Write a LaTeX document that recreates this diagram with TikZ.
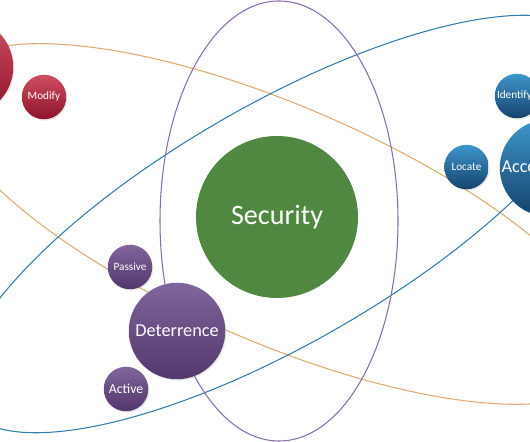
\documentclass[tikz,border=0pt]{standalone}
\usepackage{fontspec}
\setmainfont{Carlito}
\usetikzlibrary{shadows}

\definecolor{orbitorange}{RGB}{222,172,112}
\definecolor{orbitpurple}{RGB}{135,110,170}
\definecolor{orbitblue}{RGB}{50,125,170}
\definecolor{securitygreen}{RGB}{80,135,65}
\definecolor{redtop}{RGB}{206,78,98}
\definecolor{redbottom}{RGB}{140,20,42}
\definecolor{purpletop}{RGB}{128,102,156}
\definecolor{purplebottom}{RGB}{82,54,108}
\definecolor{bluetop}{RGB}{62,150,204}
\definecolor{bluebottom}{RGB}{20,66,106}

\begin{document}
\begin{tikzpicture}[
    ball/.style={circle, inner sep=0pt, text=white,
        drop shadow={opacity=0.2, shadow xshift=0.6pt, shadow yshift=-0.8pt}},
    bigball/.style={ball, minimum size=1.93cm, font=\fontsize{10.4}{12}\selectfont},
    smallball/.style={ball, minimum size=0.89cm, font=\fontsize{6.4}{7}\selectfont},
    redball/.style={top color=redtop, bottom color=redbottom},
    purpleball/.style={top color=purpletop, bottom color=purplebottom},
    blueball/.style={top color=bluetop, bottom color=bluebottom},
    orbit/.style={line width=0.6pt}
]
    \useasboundingbox (0,0) rectangle (10.60,8.84);
    \clip (0,0) rectangle (10.60,8.84);

    % orbits
    \draw[orbit, orbitorange] (5.56,4.36) ellipse [x radius=7.26, y radius=2.36, rotate=-23.4];
    \draw[orbit, orbitblue] (5.60,4.36) ellipse [x radius=7.26, y radius=2.38, rotate=30];
    \draw[orbit, orbitpurple] (5.58,4.42) ellipse [x radius=2.38, y radius=4.40];

    % centre
    \node[circle, fill=securitygreen, text=white, minimum size=3.24cm,
        font=\fontsize{16}{18}\selectfont] (security) at (5.54,4.50) {Security};

    % red group
    \node[bigball, redball] (integrity) at (-0.70,7.50) {};
    \node[smallball, redball] (modify) at (0.88,6.90) {Modify};

    % purple group
    \node[bigball, purpleball] (deterrence) at (3.54,2.22) {Deterrence};
    \node[smallball, purpleball] (passive) at (2.60,3.50) {Passive};
    \node[smallball, purpleball, font=\fontsize{7.8}{9}\selectfont] (active) at (2.52,1.06) {Active};

    % blue group
    \node[bigball, blueball, text width=1.86cm, align=left] (accountability) at (10.96,5.48) {Accountability};
    \node[smallball, blueball] (locate) at (9.33,5.50) {Locate};
    \node[smallball, blueball, text width=0.80cm, align=left] (identify) at (10.34,6.92) {Identify};
\end{tikzpicture}
\end{document}
